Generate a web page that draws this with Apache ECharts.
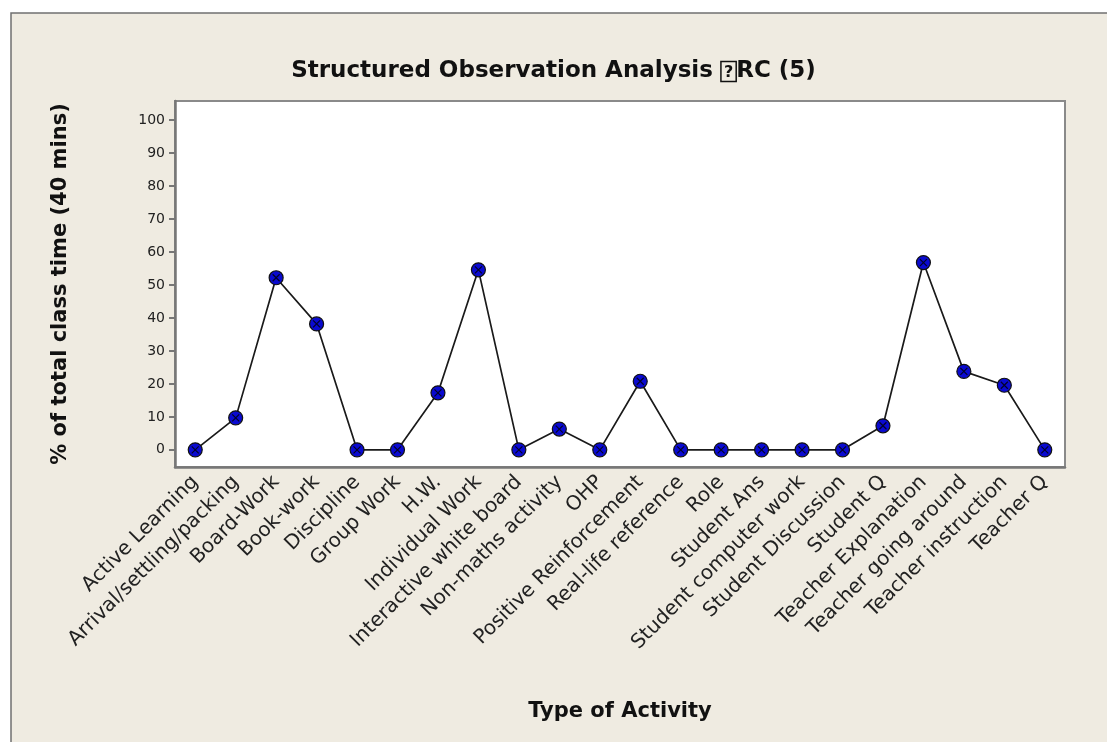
<!DOCTYPE html>
<html>
<head>
<meta charset="utf-8">
<script src="https://cdn.jsdelivr.net/npm/echarts@6/dist/echarts.min.js"></script>
<style>
html, body { margin: 0; padding: 0; background: #ffffff; }
#main { width: 1107px; height: 742px; }
</style>
</head>
<body>
<div id="main"></div>
<script>
// categories along the x axis
var activities = [
  'Active Learning', 'Arrival/settling/packing', 'Board-Work', 'Book-work',
  'Discipline', 'Group Work', 'H.W.', 'Individual Work',
  'Interactive white board', 'Non-maths activity', 'OHP', 'Positive Reinforcement',
  'Real-life reference', 'Role', 'Student Ans', 'Student computer work',
  'Student Discussion', 'Student Q', 'Teacher Explanation', 'Teacher going around',
  'Teacher instruction', 'Teacher Q'
];
// % of total class time
var percentTime = [
  0, 9.7, 52.2, 38.2,
  0, 0, 17.3, 54.6,
  0, 6.3, 0, 20.8,
  0, 0, 0, 0,
  0, 7.3, 56.8, 23.8,
  19.6, 0
];
var yTicks = [0, 10, 20, 30, 40, 50, 60, 70, 80, 90, 100];

var chart = echarts.init(document.getElementById('main'));
var font = '"DejaVu Sans", Arial, sans-serif';

var option = {
  animation: false,
  backgroundColor: '#ffffff',
  textStyle: { fontFamily: font },
  graphic: [{
    type: 'rect',
    z: -10,
    shape: { x: 11, y: 13, width: 1110, height: 740 },
    style: { fill: '#efebe1', stroke: '#707070', lineWidth: 1.5 }
  }],
  title: {
    text: 'Structured Observation Analysis {box|?}RC (5)',
    left: 'center',
    top: 55,
    textStyle: {
      fontFamily: font,
      fontSize: 23,
      fontWeight: 'bold',
      color: '#111',
      rich: {
        box: {
          fontFamily: font,
          fontSize: 16,
          fontWeight: 'bold',
          color: '#111',
          borderColor: '#111',
          borderWidth: 1.5,
          padding: [3, 3, 1, 3]
        }
      }
    }
  },
  grid: {
    left: 175,
    right: 42,
    top: 101,
    bottom: 275,
    show: true,
    backgroundColor: '#ffffff',
    borderColor: '#8a8a8a',
    borderWidth: 2
  },
  xAxis: {
    type: 'category',
    data: activities,
    boundaryGap: true,
    name: 'Type of Activity',
    nameLocation: 'middle',
    nameGap: 234,
    nameTextStyle: { fontFamily: font, fontSize: 21, fontWeight: 'bold', color: '#111' },
    axisLine: { onZero: false, lineStyle: { color: '#777', width: 2.5 } },
    axisTick: { alignWithLabel: true, length: 7, lineStyle: { color: '#777', width: 2 } },
    axisLabel: {
      interval: 0,
      rotate: 45,
      margin: 12,
      fontFamily: font,
      fontSize: 20,
      color: '#222'
    }
  },
  yAxis: {
    type: 'value',
    min: -5.2,
    max: 105.8,
    name: '% of total class time (40 mins)',
    nameLocation: 'middle',
    nameGap: 104,
    nameTextStyle: { fontFamily: font, fontSize: 21, fontWeight: 'bold', color: '#111' },
    splitLine: { show: false },
    axisLine: { show: true, lineStyle: { color: '#777', width: 2.5 } },
    axisTick: { show: true, length: 6, customValues: yTicks, lineStyle: { color: '#777', width: 2 } },
    axisLabel: {
      customValues: yTicks,
      margin: 10,
      fontFamily: font,
      fontSize: 14,
      color: '#222'
    }
  },
  series: [
    {
      type: 'line',
      data: percentTime,
      symbol: 'circle',
      symbolSize: 14,
      lineStyle: { color: '#1a1a1a', width: 1.7 },
      itemStyle: { color: '#0a0ad0', borderColor: '#111', borderWidth: 1.2 },
      z: 3
    },
    {
      type: 'scatter',
      data: percentTime,
      symbol: 'path://M0,0 L10,10 M10,0 L0,10',
      symbolSize: 7,
      itemStyle: { color: 'none', borderColor: '#000', borderWidth: 1.2 },
      silent: true,
      z: 4
    }
  ]
};

chart.setOption(option);
</script>
</body>
</html>
